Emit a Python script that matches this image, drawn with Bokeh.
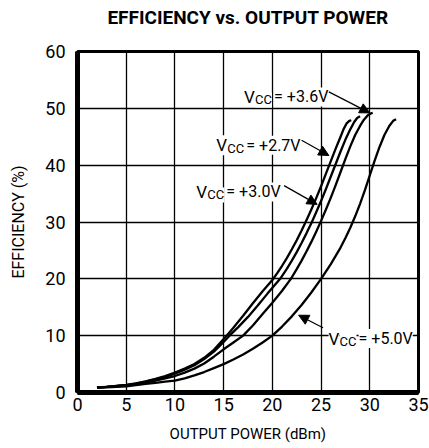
from bokeh.plotting import figure
from bokeh.models import Label, Arrow, NormalHead, FixedTicker, LinearAxis
from bokeh.embed import file_html
from bokeh.resources import INLINE

FONT = "Roboto"

title_text = "EFFICIENCY vs. OUTPUT POWER"
x_ticks = [0, 5, 10, 15, 20, 25, 30, 35]
y_ticks = [0, 10, 20, 30, 40, 50, 60]

# Vcc = +2.7V
p27_x = [2.0, 3, 4, 5, 6, 7, 8, 9, 10, 11, 12, 13, 14, 15, 15.5, 16, 17, 18, 19, 20, 20.5, 21, 21.5, 22, 22.5, 23, 23.5,
         24.0, 24.5, 25.0, 25.5, 26.0, 26.5, 27.0, 27.3, 27.6, 27.9, 28.1]
p27_y = [0.9, 1.0, 1.15, 1.35, 1.6, 1.95, 2.4, 2.9, 3.5, 4.2, 5.0, 6.1, 7.5, 9.4, 10.4, 11.4, 13.5, 15.7, 17.8, 19.8, 21.0, 22.3, 23.7, 25.2, 26.8, 28.5, 30.3,
         32.2, 34.2, 36.3, 38.5, 40.7, 42.9, 45.0, 46.3, 47.3, 47.8, 47.9]
# Vcc = +3.0V
p30_x = [2.0, 3, 4, 5, 6, 7, 8, 9, 10, 11, 12, 13, 14, 15, 15.6, 16.5, 17.5, 18.5, 19.5, 20.8, 21.5, 22.0, 22.5, 23.0, 23.5,
         24.0, 24.5, 25.0, 25.5, 26.0, 26.5, 27.0, 27.5, 28.0, 28.4, 28.7, 29.0]
p30_y = [0.9, 1.0, 1.15, 1.3, 1.55, 1.9, 2.3, 2.75, 3.3, 4.0, 4.8, 5.9, 7.2, 8.9, 10.0, 11.5, 13.3, 15.3, 17.4, 20.0, 21.8, 23.2, 24.7, 26.3, 28.0,
         29.8, 31.7, 33.7, 35.8, 38.0, 40.2, 42.4, 44.5, 46.3, 47.6, 48.3, 48.6]
# Vcc = +3.6V
p36_x = [2.0, 3, 4, 5, 6, 7, 8, 9, 10, 11, 12, 13, 14, 15, 16, 17, 18, 19, 20, 21, 21.9, 22.5, 23.0, 23.5, 24.0, 24.5,
         25.0, 25.5, 26.0, 26.5, 27.0, 27.5, 28.0, 28.5, 29.0, 29.4, 29.8, 30.1, 30.3]
p36_y = [0.9, 1.0, 1.1, 1.25, 1.5, 1.75, 2.1, 2.5, 2.9, 3.5, 4.2, 5.1, 6.3, 7.6, 8.8, 10.0, 11.8, 13.8, 15.8, 17.9, 20.0, 21.7, 23.2, 24.8, 26.5, 28.3,
         30.2, 32.2, 34.3, 36.5, 38.8, 41.1, 43.3, 45.3, 46.9, 48.0, 48.8, 49.1, 49.2]
# Vcc = +5.0V
p50_x = [2.0, 3, 4, 5, 6, 7, 8, 9, 10, 11, 12, 13, 14, 15, 16, 17, 18, 19, 20, 21, 22, 23, 24, 25, 26, 27, 27.5,
         28.0, 28.5, 29.0, 29.5, 30.0, 30.5, 31.0, 31.5, 32.0, 32.4, 32.7]
p50_y = [0.8, 0.9, 1.0, 1.1, 1.3, 1.5, 1.7, 1.9, 2.1, 2.5, 3.0, 3.6, 4.3, 5.0, 5.8, 6.7, 7.7, 8.8, 10.0, 11.6, 13.4, 15.4, 17.6, 20.0, 22.6, 25.5, 27.2,
         29.0, 31.0, 33.2, 35.6, 38.2, 40.8, 43.2, 45.3, 46.9, 47.8, 48.1]

series = [(p27_x, p27_y), (p30_x, p30_y), (p36_x, p36_y), (p50_x, p50_y)]

label_texts = ["= +3.6V", "= +2.7V", "= +3.0V", "= +5.0V"]
label_pos = [(17.1, 52.0), (14.25, 43.5), (12.2, 35.3), (25.77, 9.5)]
arrows = [((25.8, 52.9), (30.0, 49.2)),
          ((23.0, 44.4), (25.8, 41.7)),
          ((21.2, 36.4), (24.6, 33.1)),
          ((25.2, 11.4), (22.7, 13.6))]

p = figure(width=429, height=448, x_range=(0, 35), y_range=(0, 60),
           output_backend="svg", toolbar_location=None,
           min_border_left=77, min_border_right=11, min_border_top=51, min_border_bottom=56)

p.outline_line_color = "black"
p.outline_line_width = 3
p.outline_line_alpha = 1

for ax, ticks in ((p.xaxis, x_ticks), (p.yaxis, y_ticks)):
    ax.ticker = FixedTicker(ticks=ticks)
    ax.axis_line_width = 5
    ax.axis_line_color = "black"
    ax.major_tick_line_color = None
    ax.minor_tick_line_color = None
    ax.major_tick_out = 0
    ax.major_tick_in = 0
    ax.minor_tick_out = 0
    ax.major_label_text_font = FONT
    ax.major_label_text_font_size = "18px"
    ax.major_label_text_color = "black"
    ax.axis_label_text_font = FONT
    ax.axis_label_text_font_style = "normal"
    ax.axis_label_text_color = "black"

p.xaxis.axis_label = "OUTPUT POWER (dBm)"
p.xaxis.axis_label_text_font_size = "15px"
p.xaxis.major_label_standoff = 5
p.xaxis.axis_label_standoff = 11
p.yaxis.axis_label = "EFFICIENCY (%)"
p.yaxis.axis_label_text_font_size = "16px"
p.yaxis.major_label_standoff = 12
p.yaxis.axis_label_standoff = 14

# chart title as the label of a bare axis above the frame
title_axis = LinearAxis(ticker=FixedTicker(ticks=[]), axis_label=title_text,
                        axis_line_color=None, major_tick_line_color=None,
                        minor_tick_line_color=None, major_tick_out=0, minor_tick_out=0,
                        major_tick_in=0, major_label_text_font_size="0px",
                        axis_label_text_font=FONT, axis_label_text_font_size="19px",
                        axis_label_text_font_style="bold", axis_label_text_color="black",
                        axis_label_standoff=23)
p.add_layout(title_axis, "above")

p.xgrid.ticker = FixedTicker(ticks=x_ticks)
p.ygrid.ticker = FixedTicker(ticks=y_ticks)
for g in (p.xgrid, p.ygrid):
    g.grid_line_color = "black"
    g.grid_line_width = 1.3
    g.grid_line_alpha = 1

for xs, ys in series:
    p.line(xs, ys, line_color="black", line_width=2.3, line_join="round")

for txt, (lx, ly) in zip(label_texts, label_pos):
    p.add_layout(Label(x=lx, y=ly, text="V", text_font=FONT, text_font_size="17px",
                       text_color="black", text_baseline="alphabetic",
                       background_fill_color="white"))
    p.add_layout(Label(x=lx, y=ly, x_offset=11, y_offset=-3, text="CC", text_font=FONT,
                       text_font_size="13px", text_color="black", text_baseline="alphabetic",
                       background_fill_color="white"))
    p.add_layout(Label(x=lx, y=ly, x_offset=30, text=txt, text_font=FONT,
                       text_font_size="16px", text_color="black", text_baseline="alphabetic",
                       background_fill_color="white"))

for (x0, y0), (x1, y1) in arrows:
    p.add_layout(Arrow(x_start=x0, y_start=y0, x_end=x1, y_end=y1, line_width=1.2,
                       line_color="black",
                       end=NormalHead(size=10, fill_color="black", line_color="black")))

open("out.html", "w").write(file_html(p, INLINE))
